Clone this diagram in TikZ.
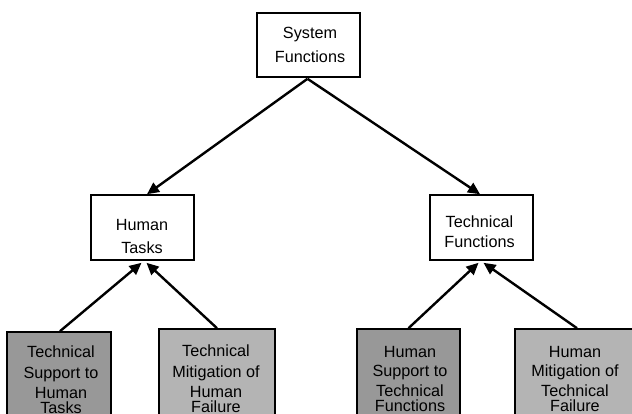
\documentclass[tikz,border=0pt]{standalone}
\usepackage{fontspec}
\setmainfont{Liberation Sans}
\usetikzlibrary{arrows.meta,calc}
\begin{document}
\begin{tikzpicture}[x=1pt,y=-1pt,
  box/.style={draw=black,line width=1.6pt,rectangle,inner sep=0pt},
  txt/.style={align=center,inner sep=0pt,anchor=north},
  conn/.style={line width=2.4pt,-{Triangle[length=12pt,width=11pt]}}]
\definecolor{darkbox}{RGB}{152,152,152}
\definecolor{lightbox}{RGB}{180,180,180}
\useasboundingbox (0,0) rectangle (632,414);
\clip (0,0) rectangle (632,414);
% boxes
\node[box,fill=white,minimum width=103pt,minimum height=64pt] (sys) at (308.5,45) {};
\node[box,fill=white,minimum width=103pt,minimum height=65pt] (ht) at (142.5,227.5) {};
\node[box,fill=white,minimum width=103pt,minimum height=65pt] (tf) at (481.5,227.5) {};
\node[box,fill=darkbox,minimum width=104pt,minimum height=108pt] (b1) at (59,386) {};
\node[box,fill=lightbox,minimum width=116pt,minimum height=111pt] (b2) at (217,384.5) {};
\node[box,fill=darkbox,minimum width=103pt,minimum height=111pt] (b3) at (408.5,384.5) {};
\node[box,fill=lightbox,minimum width=118pt,minimum height=111pt] (b4) at (574,384.5) {};
% texts
\node[txt,font=\fontsize{16.2}{24}\selectfont] (syst) at (310,27) {System\\Functions};
\node[txt,font=\fontsize{16.2}{23}\selectfont] (htt) at (142,219) {Human\\Tasks};
\node[txt,font=\fontsize{16.2}{20}\selectfont] (tft) at (479.5,216) {Technical\\Functions};
\node[txt,font=\fontsize{16.2}{20.5}\selectfont] (b1t) at (61,346) {Technical\\Support to\\Human\\[-5.5pt]Tasks};
\node[txt,font=\fontsize{16.2}{20.5}\selectfont] (b2t) at (216,345) {Technical\\Mitigation of\\Human\\[-5.5pt]Failure};
\node[txt,font=\fontsize{16.2}{19.5}\selectfont] (b3t) at (410,346) {Human\\Support to\\Technical\\[-4.5pt]Functions};
\node[txt,font=\fontsize{16.2}{19.5}\selectfont] (b4t) at (575,346) {Human\\Mitigation of\\Technical\\[-4.5pt]Failure};
% connectors
\draw[conn] ($(sys.south)+(-1,1)$) -- ($(ht.north)+(4.5,0)$);
\draw[conn] ($(sys.south)+(-1,1)$) -- ($(tf.north)+(-1.5,0)$);
\draw[conn] ($(b1.north)+(1,0)$) -- ($(ht.south)+(-1,2)$);
\draw[conn] (b2.north) -- ($(ht.south)+(4,2)$);
\draw[conn] (b3.north) -- ($(tf.south)+(-3,2)$);
\draw[conn] ($(b4.north)+(3,0)$) -- ($(tf.south)+(2,2)$);
\end{tikzpicture}
\end{document}
